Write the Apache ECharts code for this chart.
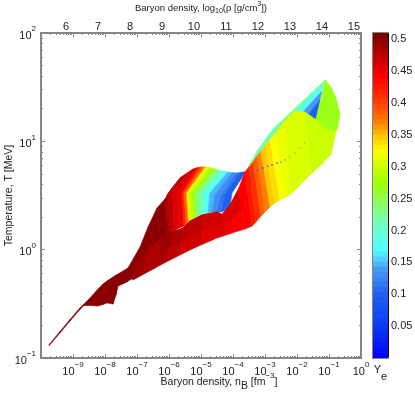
<!DOCTYPE html>
<html><head><meta charset="utf-8">
<style>html,body{margin:0;padding:0;background:#fff}#c{width:415px;height:393px}</style>
<script src="https://cdn.jsdelivr.net/npm/echarts@6/dist/echarts.min.js"></script>
</head><body><div id="c"></div>
<script>
// ---- axis ticks ----
const xDecades = [-10,-9,-8,-7,-6,-5,-4,-3,-2,-1,0];
const yDecades = [-1,0,1,2];
const xLabelDecades = [-9,-8,-7,-6,-5,-4,-3,-2,-1,0];
const rhoTicks = [6,7,8,9,10,11,12,13,14,15];
const yeTicks = [0.05,0.1,0.15,0.2,0.25,0.3,0.35,0.4,0.45,0.5];
// ---- colour scale for Ye ----
const cmapYe = [0,0.05,0.1,0.14,0.155,0.17,0.21,0.25,0.275,0.3,0.325,0.35,0.37,0.4,0.44,0.47,0.51];
const cmapColors = ['#0000ff','#0a3cf0','#2060f0','#4a9bf5','#50d0ff','#50ffff','#70ffc0','#90ff50','#a0ff00','#ccff00','#ffff00','#ffc000','#ff8000','#ff4000','#ff0000','#c80000','#700000'];
// ---- low-density tail: log10 nB, log10 T ----
const tailN = [-9.75,-9.406,-9.094,-8.781,-8.656,-8.469,-8.219,-8.063,-7.938,-7.75,-7.656,-7.594,-7.281];
const tailTop = [-0.878,-0.755,-0.645,-0.537,-0.502,-0.446,-0.363,-0.317,-0.289,-0.252,-0.234,-0.225,-0.169];
const tailBottom = [-0.887,-0.769,-0.658,-0.552,-0.515,-0.515,-0.520,-0.506,-0.492,-0.502,-0.418,-0.335,-0.294];
const tailYe = 0.5;
// ---- back dome: contours across the sheet ----
const domeYe = [0.5,0.5,0.5,0.5,0.495,0.49,0.485,0.475,0.46,0.45,0.42,0.39,0.36,0.33,0.30,0.27,0.25,0.22,0.20,0.17,0.15,0.13,0.115,0.10];
const domeTopN = [-7.281,-6.906,-6.656,-6.375,-6.125,-5.906,-5.625,-5.25,-5.156,-5.094,-5.0,-4.906,-4.844,-4.781,-4.656,-4.563,-4.469,-4.375,-4.281,-4.156,-4.031,-3.906,-3.781,-3.594];
const domeTopT = [-0.169,0.025,0.209,0.385,0.468,0.569,0.671,0.745,0.754,0.758,0.763,0.763,0.763,0.763,0.754,0.745,0.735,0.731,0.726,0.717,0.712,0.708,0.712,0.722];
const domeMidN = [-7.219,-6.656,-6.469,-6.281,-6.125,-6.094,-6.063,-5.875,-5.719,-5.594,-5.531,-5.469,-5.438,-5.406,-5.281,-5.188,-5.094,-4.969,-4.844,-4.719,-4.563,-4.406,-4.281,-4.031];
const domeMidT = [-0.234,-0.077,0.043,0.135,0.228,0.412,0.505,0.542,0.532,0.523,0.523,0.523,0.523,0.523,0.523,0.523,0.523,0.523,0.523,0.523,0.505,0.486,0.495,0.523];
const domeLowN = [-7.125,-6.438,-6.281,-6.125,-5.969,-5.969,-5.906,-5.844,-5.688,-5.531,-5.469,-5.406,-5.375,-5.344,-5.219,-5.156,-5.094,-5.0,-4.875,-4.781,-4.656,-4.5,-4.344,-4.094];
const domeLowT = [-0.280,-0.169,-0.114,-0.077,0.043,0.135,0.135,0.163,0.200,0.218,0.237,0.255,0.274,0.274,0.292,0.302,0.311,0.320,0.329,0.339,0.348,0.348,0.348,0.394];
// ---- front sheet: columns from fold line to lower edge ----
const sheetYe = [0.5,0.495,0.49,0.485,0.48,0.475,0.47,0.465,0.46,0.455,0.45,0.445,0.44,0.43,0.41,0.39,0.37,0.35,0.335,0.325,0.315,0.31,0.305,0.30,0.30,0.295];
const sheetTopN = [-7.281,-6.906,-6.594,-6.188,-5.875,-5.563,-5.344,-4.969,-4.5,-4.344,-4.094,-3.844,-3.625,-3.5,-3.375,-3.25,-3.125,-3.0,-2.844,-2.656,-2.375,-2.063,-1.75,-1.438,-0.875,-0.656];
const sheetTopT = [-0.169,-0.077,0.025,0.108,0.163,0.200,0.265,0.320,0.348,0.325,0.412,0.551,0.717,0.763,0.809,0.865,0.911,0.957,1.012,1.077,1.197,1.280,1.271,1.206,1.151,1.262];
const sheetLowN = [-7.594,-7.219,-6.844,-6.438,-6.031,-5.656,-5.344,-4.938,-4.5,-4.219,-3.938,-3.625,-3.406,-3.281,-3.125,-3.0,-2.844,-2.688,-2.531,-2.344,-2.188,-1.844,-1.531,-1.219,-0.969,-0.938];
const sheetLowT = [-0.335,-0.280,-0.215,-0.169,-0.105,-0.049,-0.003,0.052,0.108,0.135,0.163,0.191,0.218,0.255,0.311,0.348,0.394,0.431,0.459,0.486,0.514,0.615,0.708,0.791,0.874,0.878];
// slightly darker band just under the fold, by sheet column
const foldYe = [0,0,0,0.49,0.485,0.478,0.472,0.468,0.465,0.46,0.458,0.452,0,0,0,0,0,0,0,0,0,0,0,0,0,0];
// ---- upper right pieces ----
const ridgeRim = {ye:0.22, n:[-3.594,-3.25,-2.75,-2.125,-2.031,-2.656,-3.125,-3.625], t:[0.726,0.911,1.114,1.289,1.262,1.077,0.911,0.717]};
const backStrip1 = {ye:0.22, n:[-2.125,-1.125,-1.188,-2.031], t:[1.289,1.566,1.520,1.271]};
const backStrip2 = {ye:0.17, n:[-2.031,-1.188,-1.219,-1.844], t:[1.271,1.520,1.465,1.262]};
const backStrip3 = {ye:0.14, n:[-1.844,-1.219,-1.281,-1.656], t:[1.262,1.465,1.382,1.243]};
const backStrip4 = {ye:0.10, n:[-1.656,-1.281,-1.406,-1.531], t:[1.243,1.382,1.206,1.220]};
const wing = {ye:0.27, n:[-1.125,-0.938,-0.781,-0.656,-0.688,-0.75,-1.031,-1.406,-1.219], t:[1.566,1.502,1.400,1.262,1.179,1.105,1.105,1.206,1.428]};
// ---- dotted arc ----
const arcN = [-3.375,-3.219,-3.063,-2.906,-2.781,-2.625,-2.5,-2.375,-2.219,-2.063,-1.906,-1.75];
const arcT = [0.717,0.735,0.754,0.772,0.782,0.800,0.809,0.828,0.855,0.892,0.938,0.985];
const arcAlpha = [0.9,0.9,0.9,0.9,0.9,0.8,0.6,0.5,0.3,0.3,0.3,0.3];

const GRAY = '#858585';
const YE_MAX = 0.51, LEVELS = 64;
function hex(c){return [1,3,5].map(i=>parseInt(c.substr(i,2),16));}
function yeColor(v){
  const q = (Math.min(LEVELS-1,Math.floor(v/YE_MAX*LEVELS))+0.5)*YE_MAX/LEVELS;
  let i=0; while(i<cmapYe.length-2 && q>cmapYe[i+1]) i++;
  const f=Math.min(1,(q-cmapYe[i])/(cmapYe[i+1]-cmapYe[i]));
  const a=hex(cmapColors[i]),b=hex(cmapColors[i+1]);
  return 'rgb('+a.map((x,k)=>Math.round(x+(b[k]-x)*f)).join(',')+')';
}
const polys=[];
function strips(ye,rows){ // rows: list of point lists, strip i joins rows[i] and rows[i+1]
  for(let i=0;i+1<rows.length;i++){
    polys.push({ye:ye(i),pts:rows[i].concat(rows[i+1].slice().reverse())});
  }
}
strips(()=>tailYe, tailN.map((n,i)=>[[n,tailTop[i]],[n,tailBottom[i]]]));
polys.push({ye:ridgeRim.ye,pts:ridgeRim.n.map((n,i)=>[n,ridgeRim.t[i]])});
strips(i=>domeYe[i+1], domeYe.map((_,i)=>[[domeTopN[i],domeTopT[i]],[domeMidN[i],domeMidT[i]],[domeLowN[i],domeLowT[i]]]));
[backStrip1,backStrip2,backStrip3,backStrip4].forEach(s=>polys.push({ye:s.ye,pts:s.n.map((n,i)=>[n,s.t[i]])}));
strips(i=>sheetYe[i+1], sheetYe.map((_,i)=>[[sheetTopN[i],sheetTopT[i]],[sheetLowN[i],sheetLowT[i]]]));
const halfway=(i)=>[(sheetTopN[i]+sheetLowN[i])/2,(sheetTopT[i]+sheetLowT[i])/2];
foldYe.forEach((y,i)=>{ if(y && foldYe[i+1]) polys.push({ye:y,pts:[[sheetTopN[i],sheetTopT[i]],[sheetTopN[i+1],sheetTopT[i+1]],halfway(i+1),halfway(i)]}); });
polys.push({ye:wing.ye,pts:wing.n.map((n,i)=>[n,wing.t[i]])});

const minorOf = ds => { const r=[]; ds.slice(0,-1).forEach(d=>{for(let m=2;m<10;m++) r.push(m*Math.pow(10,d));}); return r; };
const xMajor = xDecades.map(d=>Math.pow(10,d)), yMajor = yDecades.map(d=>Math.pow(10,d));
const decLabel = v => { const e=Math.round(Math.log10(v)); return '{b|10}{e|'+String(e).replace('-','\u2212')+'}'; };
const FONT='"Liberation Sans",Arial,sans-serif';
const rich = {
  b:{fontSize:11,fontFamily:FONT,color:'#222',lineHeight:16,verticalAlign:'bottom'},
  e:{fontSize:8,fontFamily:FONT,color:'#222',lineHeight:16,verticalAlign:'top'},
};
const nameRich = {
  t:{fontSize:10.5,fontFamily:FONT,color:'#222',lineHeight:16,verticalAlign:'middle'},
  sub:{fontSize:10.5,fontFamily:FONT,color:'#222',lineHeight:20,verticalAlign:'bottom'},
  sup:{fontSize:8,fontFamily:FONT,color:'#222',lineHeight:18,verticalAlign:'top'},
};
const topRich = {
  t:{fontSize:9.5,fontFamily:FONT,color:'#222',lineHeight:14,verticalAlign:'middle'},
  sub:{fontSize:7,fontFamily:FONT,color:'#222',lineHeight:14,verticalAlign:'bottom'},
  sup:{fontSize:7,fontFamily:FONT,color:'#222',lineHeight:14,verticalAlign:'top'},
};
const line={show:true,onZero:false,lineStyle:{color:GRAY,width:2}};
const noLine={show:false,onZero:false};
const logBase={type:'log',logBase:10,gridIndex:0,splitLine:{show:false},silent:true};
const xBase=Object.assign({},logBase,{min:1e-10,max:1});
const yBase=Object.assign({},logBase,{min:0.1,max:100});
const tick=(vals,len)=>({show:true,inside:true,length:len,customValues:vals,lineStyle:{color:GRAY,width:1}});
const option={
  animation:false,
  backgroundColor:'#fff',
  grid:[{left:41,top:33,width:320,height:325,containLabel:false,outerBoundsMode:'none'},{left:373,top:33,width:15,height:325,outerBoundsMode:'none'}],
  xAxis:[
    Object.assign({},xBase,{position:'bottom',axisLine:line,axisTick:tick(xMajor,4),
      axisLabel:{show:true,margin:3,customValues:xLabelDecades.map(d=>Math.pow(10,d)),formatter:decLabel,rich:rich,showMinLabel:true,showMaxLabel:true,hideOverlap:false},
      name:'{t|Baryon density, n}{sub|B}{t| [fm}{sup|\u22123}{t|]}',nameLocation:'middle',nameMoveOverlap:false,nameGap:14,nameTextStyle:{rich:nameRich,padding:[0,0,0,36]}}),
    Object.assign({},xBase,{position:'bottom',axisLine:noLine,axisTick:tick(minorOf(xDecades),2),axisLabel:{show:false}}),
    Object.assign({},xBase,{position:'top',axisLine:line,axisTick:tick(xMajor,4),axisLabel:{show:false}}),
    Object.assign({},xBase,{position:'top',axisLine:noLine,axisTick:tick(minorOf(xDecades),2),axisLabel:{show:false}}),
    {type:'value',gridIndex:0,position:'top',min:5.22,max:15.22,splitLine:{show:false},axisLine:noLine,axisTick:{show:false},
      axisLabel:{show:true,margin:1,customValues:rhoTicks,fontSize:11,fontFamily:FONT,color:'#222',formatter:v=>String(Math.round(v))},
      name:'{t|Baryon density, log}{sub|10}{t|(\u03c1 [g/cm}{sup|3}{t|])}',nameLocation:'middle',nameMoveOverlap:false,nameGap:18,nameTextStyle:{rich:topRich}},
    {type:'value',gridIndex:1,min:0,max:1,position:'bottom',axisLine:line,axisTick:{show:false},axisLabel:{show:false},splitLine:{show:false},
      name:'{t|Y}{sub|e}',nameLocation:'middle',nameMoveOverlap:false,nameGap:6,nameTextStyle:{rich:{t:{fontSize:11,fontFamily:FONT,color:'#222',lineHeight:18,verticalAlign:'top'},sub:{fontSize:11,fontFamily:FONT,color:'#222',lineHeight:18,verticalAlign:'bottom'}}}},
    {type:'value',gridIndex:1,min:0,max:1,position:'top',axisLine:line,axisTick:{show:false},axisLabel:{show:false},splitLine:{show:false}},
  ],
  yAxis:[
    Object.assign({},yBase,{position:'left',axisLine:line,axisTick:tick(yMajor,4),
      axisLabel:{show:true,margin:5,customValues:yMajor,formatter:decLabel,rich:rich,showMinLabel:true,showMaxLabel:true,hideOverlap:false},
      name:'Temperature, T [MeV]',nameLocation:'middle',nameMoveOverlap:false,nameGap:26,nameRotate:90,nameTextStyle:{fontSize:10.5,fontFamily:FONT,color:'#222'}}),
    Object.assign({},yBase,{position:'left',axisLine:noLine,axisTick:tick(minorOf(yDecades),2),axisLabel:{show:false}}),
    Object.assign({},yBase,{position:'right',axisLine:line,axisTick:tick(yMajor,4),axisLabel:{show:false}}),
    Object.assign({},yBase,{position:'right',axisLine:noLine,axisTick:tick(minorOf(yDecades),2),axisLabel:{show:false}}),
    {type:'value',gridIndex:1,position:'right',min:0,max:YE_MAX,splitLine:{show:false},
      axisLine:{show:true,onZero:false,lineStyle:{color:'#000',width:1}},
      axisTick:{show:true,inside:true,length:3,customValues:yeTicks,lineStyle:{color:GRAY}},
      axisLabel:{show:true,margin:3,customValues:yeTicks,fontSize:11,fontFamily:FONT,color:'#222',formatter:v=>String(+v.toFixed(2))}},
    {type:'value',gridIndex:1,position:'left',min:0,max:YE_MAX,splitLine:{show:false},
      axisLine:line,axisTick:{show:true,inside:true,length:3,customValues:yeTicks,lineStyle:{color:GRAY}},axisLabel:{show:false}},
  ],
  series:[
    {type:'custom',xAxisIndex:0,yAxisIndex:0,coordinateSystem:'cartesian2d',silent:true,clip:true,
      data:polys.map(p=>[Math.pow(10,p.pts[0][0]),Math.pow(10,p.pts[0][1]),p.ye]),
      renderItem:(params,api)=>{
        const p=polys[params.dataIndex], col=yeColor(p.ye);
        return {type:'polygon',shape:{points:p.pts.map(q=>api.coord([Math.pow(10,q[0]),Math.pow(10,q[1])]))},
          style:{fill:col,stroke:col,lineWidth:0.6}};
      }},
    {type:'scatter',xAxisIndex:0,yAxisIndex:0,silent:true,symbolSize:1.8,
      data:arcN.map((n,i)=>({value:[Math.pow(10,n),Math.pow(10,arcT[i])],itemStyle:{color:'#3f62c8',opacity:arcAlpha[i]}}))},
    {type:'custom',xAxisIndex:5,yAxisIndex:4,coordinateSystem:'cartesian2d',silent:true,
      data:Array.from({length:LEVELS},(_,i)=>[0,i*YE_MAX/LEVELS]),
      renderItem:(params,api)=>{
        // each level reaches the top of the bar; the next level paints over it, so no seams show
        const y0=api.value(1), a=api.coord([0,y0]), b=api.coord([1,YE_MAX]), col=yeColor(y0+YE_MAX/LEVELS/2);
        return {type:'rect',shape:{x:a[0],y:b[1],width:b[0]-a[0],height:a[1]-b[1]},style:{fill:col}};
      }},
  ]
};
const chart=echarts.init(document.getElementById('c'),null,{renderer:'canvas',width:415,height:393});
chart.setOption(option);
</script></body></html>
